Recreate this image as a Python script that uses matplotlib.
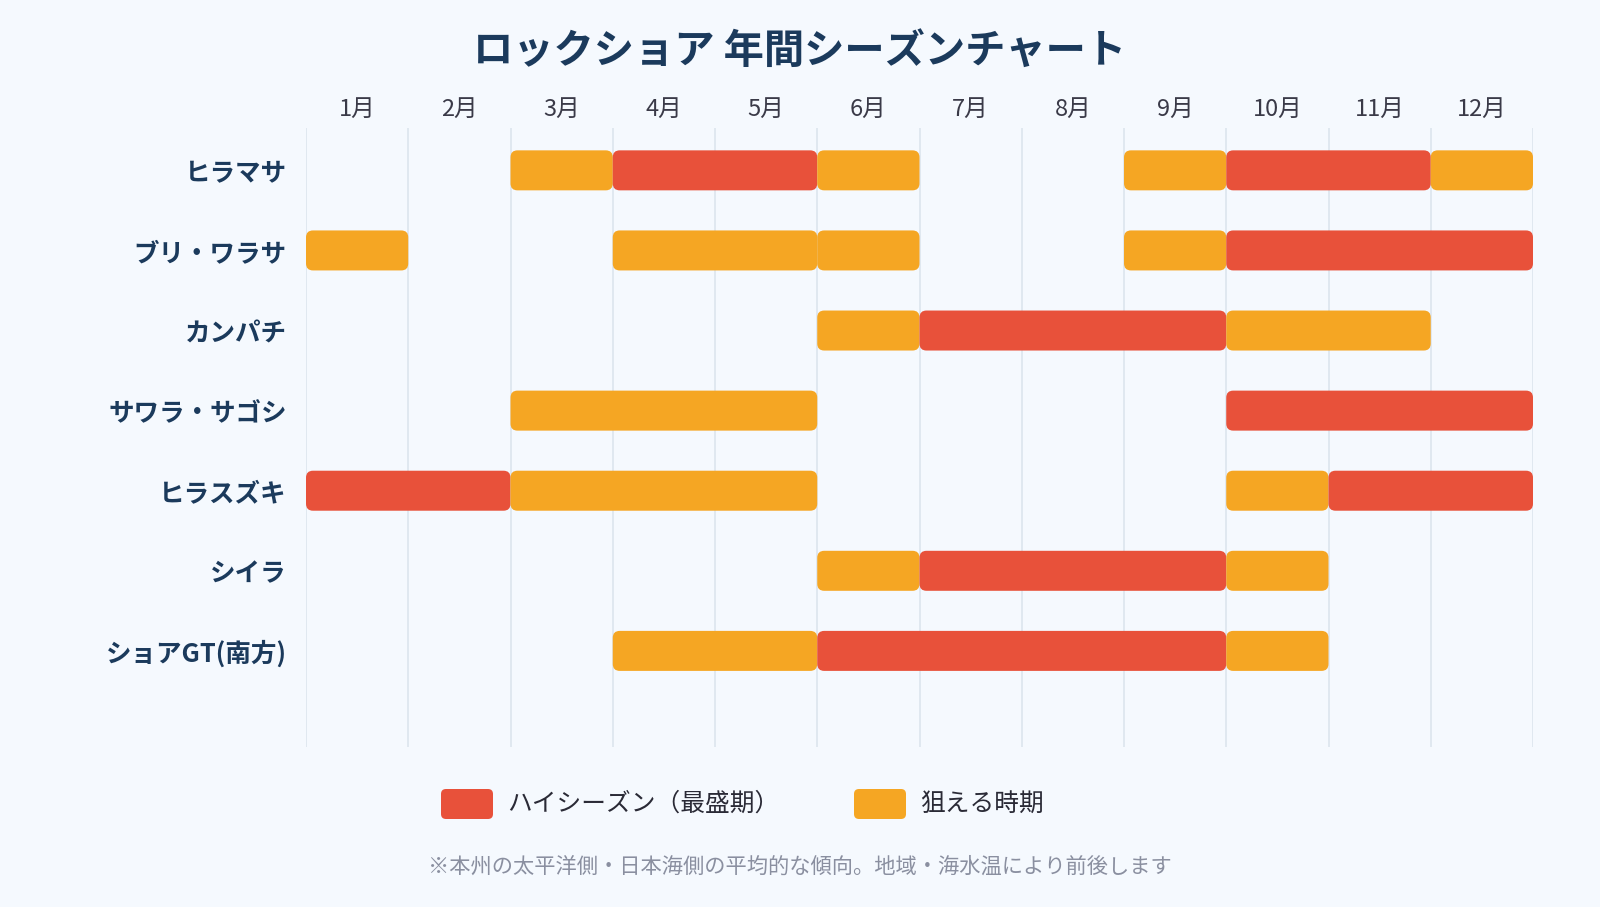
import matplotlib
matplotlib.use("Agg")
import matplotlib.pyplot as plt
from matplotlib.patches import FancyBboxPatch

plt.rcParams['font.family'] = ['Noto Sans CJK JP', 'DejaVu Sans']

# -----------------------------------------------------------------------------
#         Data
# -----------------------------------------------------------------------------
months = ['1月', '2月', '3月', '4月', '5月', '6月',
          '7月', '8月', '9月', '10月', '11月', '12月']
species = ['ヒラマサ', 'ブリ・ワラサ', 'カンパチ', 'サワラ・サゴシ',
           'ヒラスズキ', 'シイラ', 'ショアGT(南方)']

# one entry per bar segment: row index, first month, last month, kind
seg_row = [0, 0, 0, 0, 0, 0,
           1, 1, 1, 1, 1,
           2, 2, 2,
           3, 3,
           4, 4, 4, 4,
           5, 5, 5,
           6, 6, 6]
seg_start = [3, 4, 6, 9, 10, 12,
             1, 4, 6, 9, 10,
             6, 7, 10,
             3, 10,
             1, 3, 10, 11,
             6, 7, 10,
             4, 6, 10]
seg_end = [3, 5, 6, 9, 11, 12,
           1, 5, 6, 9, 12,
           6, 9, 11,
           5, 12,
           2, 5, 10, 12,
           6, 9, 10,
           5, 9, 10]
seg_kind = ['ok', 'high', 'ok', 'ok', 'high', 'ok',
            'ok', 'ok', 'ok', 'ok', 'high',
            'ok', 'high', 'ok',
            'ok', 'high',
            'high', 'ok', 'ok', 'high',
            'ok', 'high', 'ok',
            'ok', 'high', 'ok']

legend_labels = {'high': 'ハイシーズン（最盛期）', 'ok': '狙える時期'}
title = 'ロックショア 年間シーズンチャート'
note = '※本州の太平洋側・日本海側の平均的な傾向。地域・海水温により前後します'

# -----------------------------------------------------------------------------
#         Styles
# -----------------------------------------------------------------------------
bg = '#f5f9fe'
navy = '#1b3a5c'
colors = {'high': '#e8513a', 'ok': '#f5a623'}
grid_color = '#dce5ee'

W, H = 1600, 907
fig = plt.figure(figsize=(W / 100, H / 100), dpi=100, facecolor=bg)
ax_l, ax_r, ax_t, ax_b = 306, 1533, 127.5, 747
ax = fig.add_axes([ax_l / W, 1 - ax_b / H, (ax_r - ax_l) / W, (ax_b - ax_t) / H])
ax.set_facecolor(bg)

ax.set_xlim(0, 12)
ax.set_ylim(7.2, -0.535)

for x in range(13):
    ax.axvline(x, color=grid_color, lw=1.2, zorder=0)

# aspect between x and y data units in pixels, for round corners
px_x = (ax_r - ax_l) / 12
px_y = (ax_b - ax_t) / 7.735
bar_h = 40 / px_y
r = 7 / px_x
for row, s, e, k in zip(seg_row, seg_start, seg_end, seg_kind):
    p = FancyBboxPatch((s - 1, row - bar_h / 2), e - s + 1, bar_h,
                       boxstyle=f'round,pad=0,rounding_size={r}',
                       mutation_aspect=px_x / px_y,
                       facecolor=colors[k], edgecolor='none', zorder=2)
    ax.add_patch(p)

ax.xaxis.tick_top()
ax.set_xticks([m + 0.5 for m in range(12)])
ax.set_xticklabels(months, fontsize=17, color='#3a3a48')
ax.set_yticks(range(len(species)))
ax.set_yticklabels(species, fontsize=18.4, fontweight='bold', color=navy)
ax.tick_params(axis='x', length=0, pad=5)
ax.tick_params(axis='y', length=0, pad=14)
for sp in ax.spines.values():
    sp.set_visible(False)

fig.text(0.5, 1 - 51 / H, title, ha='center', va='center',
         fontsize=29, fontweight='bold', color=navy)

# legend
leg_y = 804
for (k, lab), x0 in zip(legend_labels.items(), [441, 854]):
    fig.patches.append(FancyBboxPatch(
        (x0 / W, 1 - (leg_y + 15) / H), 52 / W, 30 / H,
        boxstyle=f'round,pad=0,rounding_size={5 / W}',
        mutation_aspect=W / H,
        transform=fig.transFigure, facecolor=colors[k], edgecolor='none'))
    fig.text((x0 + 66) / W, 1 - leg_y / H, lab, ha='left', va='center',
             fontsize=17.8, color='#2a2a36')

fig.text(0.5, 1 - 867 / H, note, ha='center', va='center',
         fontsize=15.3, color='#8a8fa0')

fig.savefig('out.png', dpi=100, facecolor=bg)
